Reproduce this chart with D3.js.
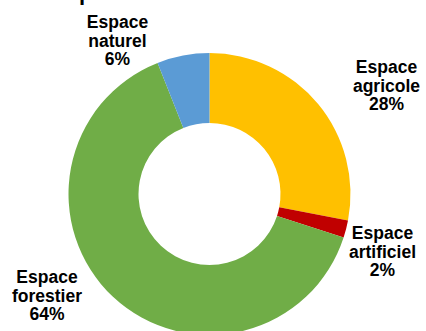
<!DOCTYPE html>
<html>
<head>
<meta charset="utf-8">
<script src="https://cdn.jsdelivr.net/npm/d3@7"></script>
<style>
  html, body { margin: 0; padding: 0; background: #fff; }
  svg { display: block; }
  text { font-family: Arial, "Liberation Sans", sans-serif; font-weight: bold; fill: #000; }
</style>
</head>
<body>
<svg id="chart" width="426" height="331"></svg>
<script>
// Land use shares (%)
const categories = ["Espace agricole", "Espace artificiel", "Espace forestier", "Espace naturel"];
const shares = [28, 2, 64, 6];
const colors = ["#FFC000", "#C00000", "#70AD47", "#5B9BD5"];
// Label lines for each slice
const labelLines = [
  ["Espace", "agricole", "28%"],
  ["Espace", "artificiel", "2%"],
  ["Espace", "forestier", "64%"],
  ["Espace", "naturel", "6%"]
];
// Label anchor (centre x, first baseline y)
const labelPos = [[386.5, 73], [382.5, 239], [47, 283], [117.5, 28]];

const svg = d3.select("#chart");
const cx = 209.5, cy = 194, outerR = 141, innerR = 71;

// Title (runs off the top edge)
svg.append("text")
  .attr("x", 24).attr("y", 0)
  .attr("font-size", 22)
  .text("Occupation des sols de la commune");

const pie = d3.pie().sort(null).value(d => d)(shares);
const arc = d3.arc().innerRadius(innerR).outerRadius(outerR);

const g = svg.append("g").attr("transform", `translate(${cx},${cy})`);
g.selectAll("path")
  .data(pie)
  .join("path")
  .attr("d", arc)
  .attr("fill", (d, i) => colors[i]);

const lh = 18.5;
labelLines.forEach((lines, i) => {
  const t = svg.append("text")
    .attr("text-anchor", "middle")
    .attr("font-size", 17.5);
  lines.forEach((ln, j) => {
    t.append("tspan")
      .attr("x", labelPos[i][0])
      .attr("y", labelPos[i][1] + j * lh)
      .text(ln);
  });
});
</script>
</body>
</html>
